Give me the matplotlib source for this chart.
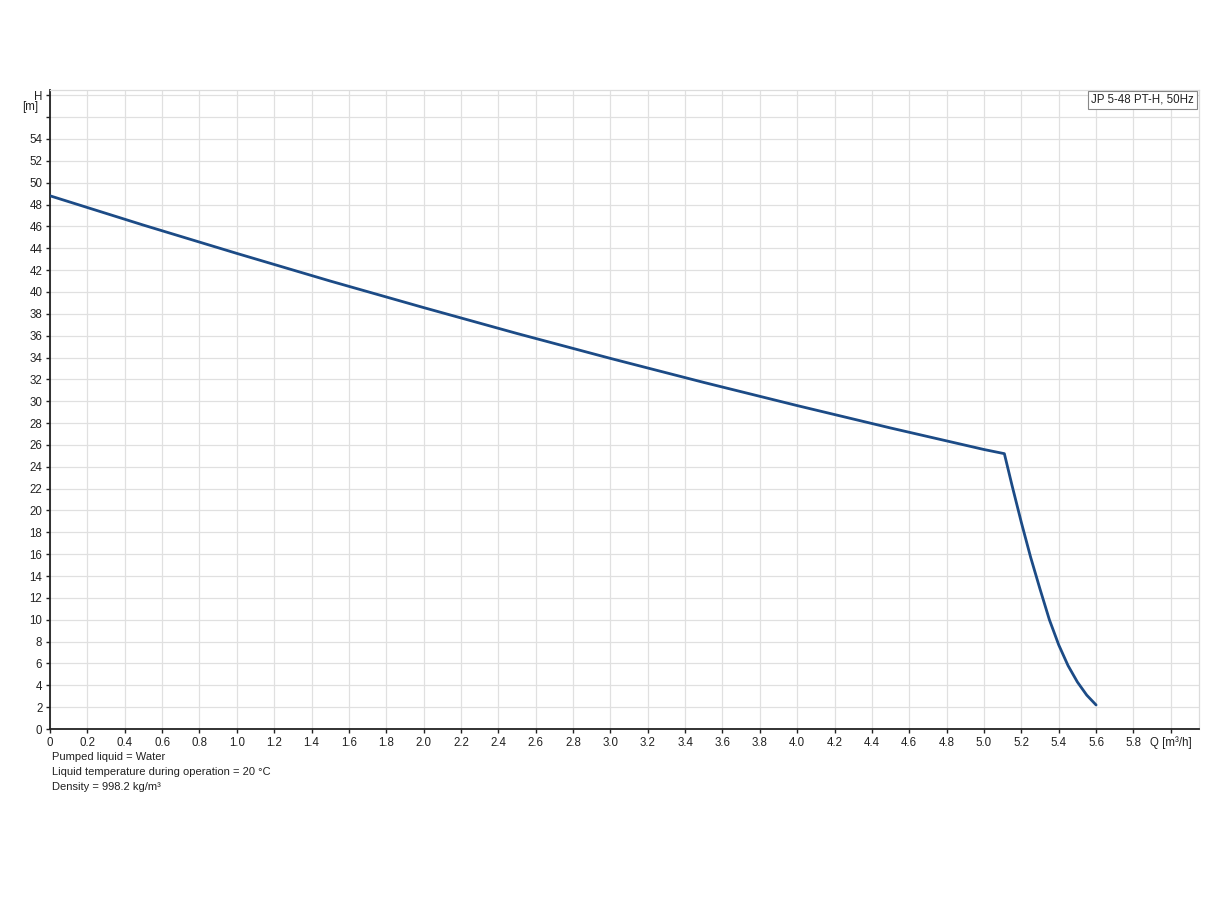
import matplotlib
matplotlib.use("Agg")
import matplotlib.pyplot as plt
import numpy as np

plt.rcParams['font.family'] = ['Liberation Sans', 'DejaVu Sans']

# Pump curve Q [m3/h] vs H [m]
q_vals = [0.0, 0.5, 1.0, 1.5, 2.0, 2.5, 3.0, 3.5, 4.0, 4.5, 5.0, 5.109,
          5.15, 5.20, 5.25, 5.30, 5.35, 5.40, 5.45, 5.50, 5.55, 5.60]
h_vals = [48.8, 46.12, 43.53, 41.0, 38.57, 36.2, 33.92, 31.72, 29.6, 27.55, 25.58, 25.2,
          22.3, 18.9, 15.7, 12.8, 10.0, 7.7, 5.8, 4.3, 3.1, 2.2]

x_ticks = [round(0.2 * i, 1) for i in range(31)]
x_labels = ["0"] + [f"{v:.1f}" for v in x_ticks[1:-1]] + ["Q [m³/h]"]
y_ticks = list(range(0, 60, 2))
y_labels = [str(v) for v in y_ticks[:-2]] + ["", "H"]

title_box = "JP 5-48 PT-H, 50Hz"
notes = ["Pumped liquid = Water",
         "Liquid temperature during operation = 20 °C",
         "Density = 998.2 kg/m³"]

fig = plt.figure(figsize=(12.24, 9.0), dpi=100)
ax = fig.add_axes([50 / 1224, 1 - 729 / 900, 1149 / 1224, 639 / 900])

ax.plot(q_vals, h_vals, color="#1c4b86", lw=2.0, solid_capstyle="round",
        solid_joinstyle="round", zorder=3)

ax.set_xlim(0, 1149 / 186.8)
ax.set_ylim(0, 639 / 10.926)
ax.set_xticks(x_ticks)
ax.set_xticklabels(x_labels)
ax.set_yticks(y_ticks)
ax.set_yticklabels(y_labels)
ax.grid(True, color="#e0e0e0", lw=0.9, zorder=0)
ax.set_axisbelow(True)

for s in ["top", "right"]:
    ax.spines[s].set_color("#dcdcdc")
    ax.spines[s].set_linewidth(0.9)
for s in ["left", "bottom"]:
    ax.spines[s].set_color("#222222")
    ax.spines[s].set_linewidth(1.3)

ax.tick_params(axis="both", labelsize=8.3, colors="#222222", length=3, width=1, pad=2.5)

ax.text(-0.010, 56.9, "[m]", transform=ax.get_yaxis_transform(), ha="right",
        va="center", fontsize=8.3, color="#222222")

ax.text(1 - 5 / 1149, 1 - 4 / 639, title_box, transform=ax.transAxes, ha="right", va="top",
        fontsize=8.3, color="#222222",
        bbox=dict(boxstyle="square,pad=0.3", facecolor="white", edgecolor="#888888", lw=0.8))

for i, t in enumerate(notes):
    fig.text(52 / 1224, 1 - (757 + 15 * i) / 900, t, ha="left", va="center",
             fontsize=8, color="#222222")

fig.savefig("out.png", dpi=100, facecolor="white")
